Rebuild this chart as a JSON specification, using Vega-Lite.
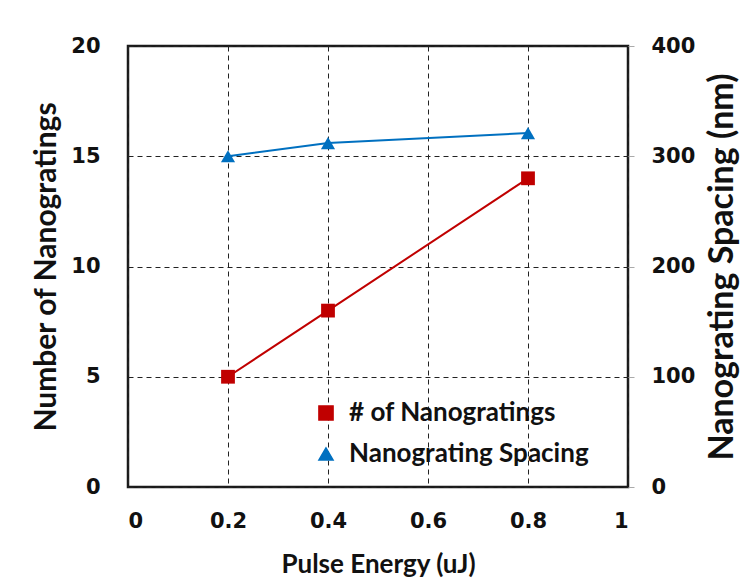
{
  "$schema": "https://vega.github.io/schema/vega-lite/v6.json",
  "width": 500,
  "height": 441,
  "autosize": "none",
  "padding": {"left": 128, "top": 46, "right": 117, "bottom": 97},
  "background": "white",
  "config": {
    "font": "Lato",
    "view": {"stroke": "#1a1a1a", "strokeWidth": 2.5},
    "axis": {
      "labelFont": "DejaVu Sans", "labelFontWeight": "bold", "labelFontSize": 21, "labelColor": "#111",
      "titleFont": "Lato", "titleFontWeight": "bold", "titleFontSize": 26, "titleColor": "#111",
      "domain": false,
      "gridColor": "#222", "gridDash": [5, 4], "gridWidth": 1, "gridOpacity": 1
    }
  },
  "data": {
    "values": [
      {"energy": 0.2, "count": 5, "spacing": 300},
      {"energy": 0.4, "count": 8, "spacing": 312},
      {"energy": 0.8, "count": 14, "spacing": 321}
    ]
  },
  "encoding": {
    "x": {
      "field": "energy", "type": "quantitative",
      "scale": {"domain": [0, 1], "nice": false},
      "axis": {"title": "Pulse Energy (uJ)", "values": [0, 0.2, 0.4, 0.6, 0.8, 1], "format": "~g", "ticks": false, "tickSize": 0, "labelPadding": 23, "titlePadding": 20, "grid": true}
    }
  },
  "layer": [
    {
      "mark": {"type": "line", "point": {"filled": true, "size": 190}, "strokeWidth": 2},
      "encoding": {
        "y": {
          "field": "count", "type": "quantitative",
          "scale": {"domain": [0, 20], "nice": false},
          "axis": {"title": "Number of Nanogratings", "titleFontSize": 30, "orient": "left", "values": [0, 5, 10, 15, 20], "ticks": false, "tickSize": 0, "labelPadding": 28, "titlePadding": 9, "grid": true}
        },
        "color": {"datum": "# of Nanogratings", "type": "nominal",
          "scale": {"domain": ["# of Nanogratings", "Nanograting Spacing"], "range": ["#C00000", "#0070C0"]},
          "legend": {"title": null, "orient": "none", "legendX": 185, "legendY": 354, "labelFontSize": 26, "labelFontWeight": "bold", "labelFont": "Lato", "labelColor": "#111", "labelLimit": 400, "symbolSize": 200, "rowPadding": 15, "labelOffset": 10}
        },
        "shape": {"datum": "# of Nanogratings", "type": "nominal",
          "scale": {"domain": ["# of Nanogratings", "Nanograting Spacing"], "range": ["square", "triangle-up"]}
        }
      }
    },
    {
      "mark": {"type": "line", "point": {"filled": true, "size": 200}, "strokeWidth": 2},
      "encoding": {
        "y": {
          "field": "spacing", "type": "quantitative",
          "scale": {"domain": [0, 400], "nice": false},
          "axis": {"title": "Nanograting Spacing (nm)", "titleFontSize": 34, "orient": "right", "titleAngle": 270, "titleBaseline": "top", "values": [0, 100, 200, 300, 400], "ticks": true, "tickSize": 6, "tickColor": "#aaa", "labelPadding": 17, "titlePadding": 11, "grid": false}
        },
        "color": {"datum": "Nanograting Spacing", "type": "nominal"},
        "shape": {"datum": "Nanograting Spacing", "type": "nominal"}
      }
    }
  ],
  "resolve": {"scale": {"y": "independent"}}
}
